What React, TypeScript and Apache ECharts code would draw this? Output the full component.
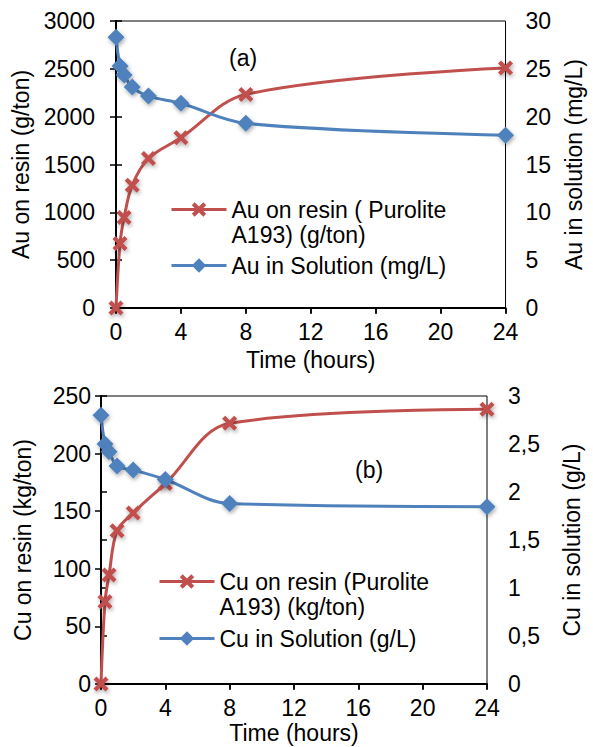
import React, { useEffect, useRef } from "react";
import * as echarts from "echarts";

const timesAu = [0, 0.25, 0.5, 1, 2, 4, 8, 24];
const auOnResin = [0, 675, 946, 1284, 1563, 1779, 2233, 2510];
const auInSolution = [28.3, 25.3, 24.35, 23.1, 22.15, 21.4, 19.3, 18.07];

const timesCu = [0, 0.25, 0.5, 1, 2, 4, 8, 24];
const cuOnResin = [0, 71.4, 94.6, 133, 148.4, 174, 226.3, 238.4];
const cuInSolution = [2.8, 2.5, 2.42, 2.27, 2.23, 2.13, 1.88, 1.847];

const xTicks = { min: 0, max: 24, interval: 4 };
const auResinAxis = { min: 0, max: 3000, interval: 500 };
const auSolAxis = { min: 0, max: 30, interval: 5 };
const cuResinAxis = { min: 0, max: 250, interval: 50 };
const cuSolAxis = { min: 0, max: 3, interval: 0.5 };

const nameAuResin = "Au on resin ( Purolite\nA193) (g/ton)";
const nameAuSol = "Au in Solution (mg/L)";
const nameCuResin = "Cu on resin (Purolite\nA193) (kg/ton)";
const nameCuSol = "Cu in Solution (g/L)";

const RED = "#C0504D";
const BLUE = "#4F81BD";
const FONT = 'Arial, "Liberation Sans", sans-serif';
const FS = 23;
const XPATH =
  "path://M0,2 L2,0 L5,3 L8,0 L10,2 L7,5 L10,8 L8,10 L5,7 L2,10 L0,8 L3,5 Z";

const zip = (xs: number[], ys: number[]) => xs.map((x, i) => [x, ys[i]]);

export default function App() {
  const ref = useRef<HTMLDivElement>(null);
  useEffect(() => {
    if (!ref.current) return;
    const chart = echarts.init(ref.current, undefined, { renderer: "svg" });
    const axisLine = { show: true, lineStyle: { color: "#000", width: 2 } };
    const tick = { show: true, length: 6, lineStyle: { color: "#000", width: 1.5 } };
    const lbl = { color: "#000", fontSize: FS, fontFamily: FONT };
    const nameStyle = { color: "#000", fontSize: FS, fontFamily: FONT };
    const plain = (v: number) => String(v);
    const xAxisBase = (gridIndex: number, gap: number) => ({
      type: "value",
      gridIndex,
      ...xTicks,
      axisLine,
      axisTick: tick,
      splitLine: { show: false },
      axisLabel: { ...lbl, margin: 12, formatter: plain },
      name: "Time (hours)",
      nameLocation: "middle",
      nameGap: gap,
      nameTextStyle: nameStyle,
    });
    const xInner = (gridIndex: number) => ({
      type: "value",
      gridIndex,
      ...xTicks,
      axisLine: { show: false },
      axisTick: { show: true, inside: true, length: 5, lineStyle: { color: "#000", width: 1.5 } },
      axisLabel: { show: false },
      splitLine: { show: false },
    });
    const yAxis = (
      gridIndex: number,
      pos: string,
      range: any,
      name: string,
      gap: number,
      margin: number,
      formatter: any = plain
    ) => ({
      type: "value",
      gridIndex,
      position: pos,
      ...range,
      axisLine,
      axisTick: tick,
      splitLine: { show: false },
      axisLabel: { ...lbl, margin, formatter },
      name,
      nameLocation: "middle",
      nameGap: gap,
      nameRotate: 90,
      nameTextStyle: nameStyle,
    });
    const shadow = {
      shadowBlur: 4,
      shadowColor: "rgba(0,0,0,0.35)",
      shadowOffsetX: 1,
      shadowOffsetY: 2,
    };
    const redSeries = (name: string, xAxisIndex: number, yAxisIndex: number, data: any) => ({
      name,
      type: "line",
      xAxisIndex,
      yAxisIndex,
      data,
      smooth: 0.35,
      clip: false,
      symbol: XPATH,
      symbolSize: 15,
      lineStyle: { color: RED, width: 3 },
      itemStyle: { color: RED, ...shadow },
    });
    const blueSeries = (name: string, xAxisIndex: number, yAxisIndex: number, data: any) => ({
      name,
      type: "line",
      xAxisIndex,
      yAxisIndex,
      data,
      smooth: 0.35,
      clip: false,
      symbol: "diamond",
      symbolSize: 17,
      lineStyle: { color: BLUE, width: 3 },
      itemStyle: { color: BLUE, ...shadow },
    });
    const textStyle = { color: "#000", fontSize: FS, fontFamily: FONT, lineHeight: 25 };
    const legendBase = {
      orient: "vertical",
      itemWidth: 55,
      itemHeight: 18,
      padding: 0,
      textStyle,
      lineStyle: { width: 3 },
    };
    const firstLineOnIcon = (name: string) => "\n" + name;
    chart.setOption({
      animation: false,
      backgroundColor: "#fff",
      textStyle: { fontFamily: FONT },
      grid: [
        { left: 116, top: 21, width: 391, height: 287, show: true, borderColor: "#000", borderWidth: 1, backgroundColor: "transparent" },
        { left: 101, top: 396, width: 386, height: 288, show: true, borderColor: "#000", borderWidth: 1, backgroundColor: "transparent" },
      ],
      xAxis: [xAxisBase(0, 40), xAxisBase(1, 37), xInner(0), xInner(1)],
      yAxis: [
        yAxis(0, "left", auResinAxis, "Au on resin (g/ton)", 83, 21),
        yAxis(0, "right", auSolAxis, "Au in solution (mg/L)", 52, 20),
        yAxis(1, "left", cuResinAxis, "Cu on resin (kg/ton)", 67, 10),
        yAxis(1, "right", cuSolAxis, "Cu in solution (g/L)", 73, 21, (v: number) =>
          String(v).replace(".", ",")
        ),
      ],
      legend: [
        { ...legendBase, left: 170, top: 172, data: [nameAuResin], formatter: firstLineOnIcon },
        { ...legendBase, left: 170, top: 253, data: [nameAuSol] },
        { ...legendBase, left: 158, top: 544, data: [nameCuResin], formatter: firstLineOnIcon },
        { ...legendBase, left: 158, top: 626, data: [nameCuSol] },
      ],
      graphic: [
        { type: "text", left: 229, top: 46, style: { text: "(a)", fontSize: FS, fontFamily: FONT, fill: "#000" } },
        { type: "text", left: 355, top: 458, style: { text: "(b)", fontSize: FS, fontFamily: FONT, fill: "#000" } },
      ],
      series: [
        redSeries(nameAuResin, 0, 0, zip(timesAu, auOnResin)),
        blueSeries(nameAuSol, 0, 1, zip(timesAu, auInSolution)),
        redSeries(nameCuResin, 1, 2, zip(timesCu, cuOnResin)),
        blueSeries(nameCuSol, 1, 3, zip(timesCu, cuInSolution)),
      ],
    });
    return () => chart.dispose();
  }, []);
  return (
    <div
      ref={ref}
      style={{ position: "absolute", left: 0, top: 0, width: 593, height: 747 }}
    />
  );
}
